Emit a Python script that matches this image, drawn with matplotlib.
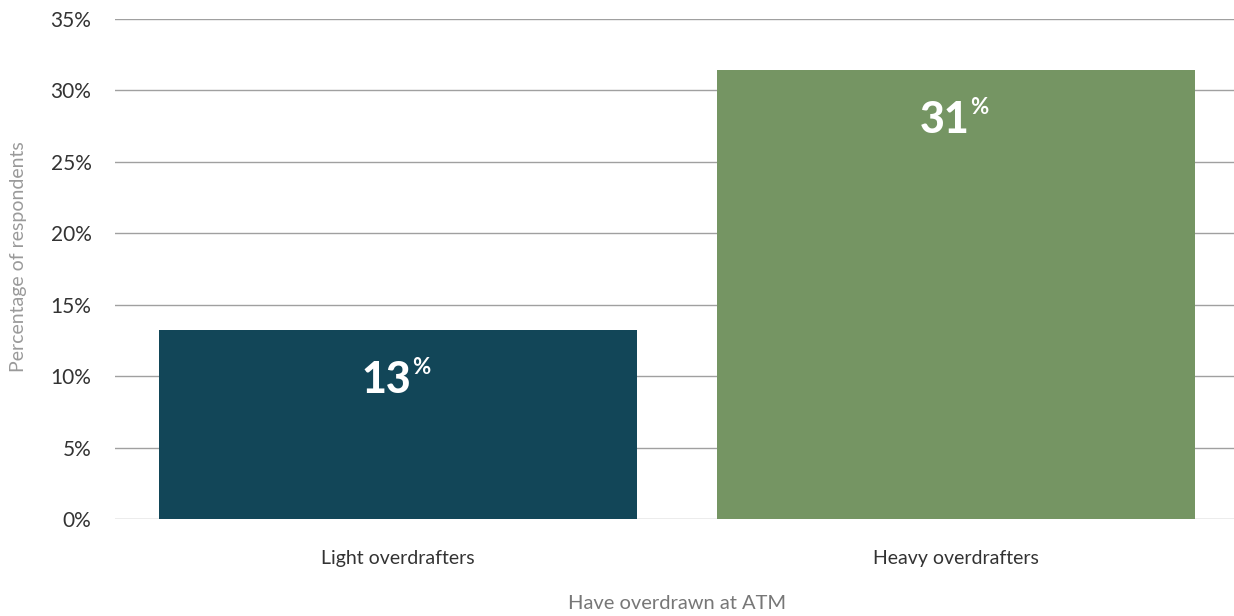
import matplotlib.pyplot as plt
import numpy as np

categories = ['Light overdrafters', 'Heavy overdrafters']
values = [13.2, 31.4]
labels = ['13', '31']
bar_colors = ['#124658', '#759563']
y_ticks = [0, 5, 10, 15, 20, 25, 30, 35]

plt.rcParams['font.family'] = ['Lato', 'DejaVu Sans']

fig = plt.figure(figsize=(12.34, 6.16), dpi=100)
ax = fig.add_axes([0.0932, 0.1575, 0.9068, 0.8117])

x = np.arange(len(categories))
ax.bar(x, values, width=0.857, color=bar_colors, zorder=2)

for xi, val, lab in zip(x, values, labels):
    ax.text(xi - 0.02, val - 3.5, lab, ha='center', va='center', color='white',
            fontsize=31, fontweight='black', zorder=3)
    ax.text(xi + 0.026, val - 2.6, '%', ha='left', va='center', color='white',
            fontsize=16, fontweight='bold', zorder=3)

ax.set_xlim(-0.507, 1.498)
ax.set_ylim(0, 35)
ax.set_yticks(y_ticks)
ax.set_yticklabels([f'{t}%' for t in y_ticks])
ax.set_xticks(x)
ax.set_xticklabels(categories)
ax.yaxis.grid(True, color='#a0a0a0', linewidth=1, zorder=0)
ax.set_axisbelow(True)
for s in ax.spines.values():
    s.set_visible(False)
ax.tick_params(axis='y', length=0, pad=17, labelsize=15, labelcolor='#333333')
ax.tick_params(axis='x', length=0, pad=22, labelsize=14, labelcolor='#333333')

fig.text(0.0146, 0.583, 'Percentage of respondents', rotation=90, ha='center', va='center',
         fontsize=14, color='#9a9a9a')
fig.text(0.549, 0.02, 'Have overdrawn at ATM', ha='center', va='center',
         fontsize=14.5, color='#777777')

fig.savefig('out.png', dpi=100)
